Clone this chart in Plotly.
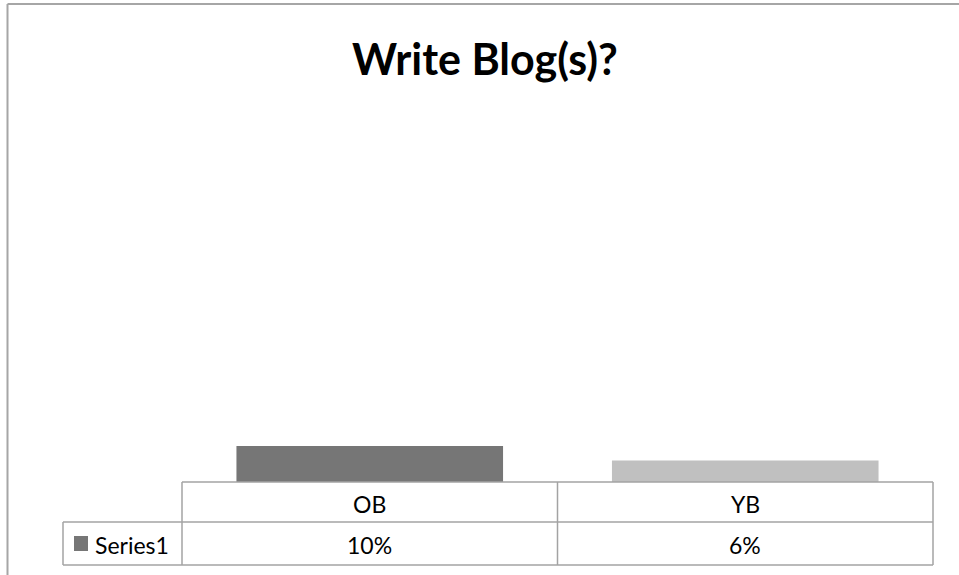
import plotly.graph_objects as go

# Chart data
title_text = "Write Blog(s)?"
categories = ["OB", "YB"]
values = [0.10, 0.06]
value_labels = ["10%", "6%"]
series_name = "Series1"
bar_colors = ["#767676", "#c0c0c0"]

W, H = 959, 575
FONT = "Lato"
GRID = "#a3a3a3"

# Pixel layout helpers (paper coords from pixel positions)
def px(x):
    return x / W

def py(y):
    return 1 - y / H

plot_left, plot_right = 182, 933
plot_top, plot_bottom = 122, 482
row1_bottom, row2_bottom = 522, 565
legend_left = 63
TXT = 23

fig = go.Figure()
fig.add_trace(go.Bar(
    x=categories,
    y=values,
    marker=dict(color=bar_colors, line=dict(width=0)),
    name=series_name,
    hoverinfo="skip",
))

shapes = []
# Outer chart border (top and left edges visible)
shapes.append(dict(type="line", xref="paper", yref="paper",
                   x0=px(7.5), x1=px(W + 5), y0=py(4), y1=py(4),
                   line=dict(color="#a6a6a6", width=2)))
shapes.append(dict(type="line", xref="paper", yref="paper",
                   x0=px(7.5), x1=px(7.5), y0=py(4), y1=py(H + 5),
                   line=dict(color="#a6a6a6", width=2)))

# Data table grid
def hline(x0, x1, y):
    shapes.append(dict(type="line", xref="paper", yref="paper",
                       x0=px(x0), x1=px(x1), y0=py(y), y1=py(y),
                       line=dict(color=GRID, width=1.5)))

def vline(x, y0, y1):
    shapes.append(dict(type="line", xref="paper", yref="paper",
                       x0=px(x), x1=px(x), y0=py(y0), y1=py(y1),
                       line=dict(color=GRID, width=1.5)))

n = len(categories)
col_w = (plot_right - plot_left) / n
hline(plot_left, plot_right, plot_bottom)
hline(legend_left, plot_right, row1_bottom)
hline(legend_left, plot_right, row2_bottom)
for i in range(n + 1):
    vline(plot_left + i * col_w, plot_bottom, row2_bottom)
vline(legend_left, row1_bottom, row2_bottom)

annotations = []
annotations.append(dict(text=f"<b>{title_text}</b>", xref="paper", yref="paper",
                        x=px(485), y=py(58), xanchor="center", yanchor="middle",
                        showarrow=False, font=dict(family=FONT, size=43, color="#000000")))
row1_mid = (plot_bottom + row1_bottom) / 2 + 2
row2_mid = (row1_bottom + row2_bottom) / 2 + 1.5
for i, (cat, lab) in enumerate(zip(categories, value_labels)):
    cx = plot_left + (i + 0.5) * col_w
    annotations.append(dict(text=cat, xref="paper", yref="paper",
                            x=px(cx), y=py(row1_mid),
                            xanchor="center", yanchor="middle", showarrow=False,
                            font=dict(family=FONT, size=TXT, color="#000000")))
    annotations.append(dict(text=lab, xref="paper", yref="paper",
                            x=px(cx), y=py(row2_mid),
                            xanchor="center", yanchor="middle", showarrow=False,
                            font=dict(family=FONT, size=TXT, color="#000000")))

# Legend key and series name in the table
shapes.append(dict(type="rect", xref="paper", yref="paper",
                   x0=px(74), x1=px(88), y0=py(536), y1=py(551),
                   fillcolor=bar_colors[0], line=dict(width=0)))
annotations.append(dict(text=series_name, xref="paper", yref="paper",
                        x=px(93), y=py(row2_mid),
                        xanchor="left", yanchor="middle", showarrow=False,
                        font=dict(family=FONT, size=TXT, color="#000000")))

fig.update_layout(
    width=W, height=H,
    margin=dict(l=0, r=0, t=0, b=0),
    paper_bgcolor="#ffffff",
    plot_bgcolor="#ffffff",
    showlegend=False,
    bargap=0.29,
    xaxis=dict(domain=[px(plot_left), px(plot_right)], visible=False,
               range=[-0.5, n - 0.5]),
    yaxis=dict(domain=[py(plot_bottom), py(plot_top)], visible=False,
               range=[0, 1]),
    shapes=shapes,
    annotations=annotations,
)

fig.write_html("out.html")
